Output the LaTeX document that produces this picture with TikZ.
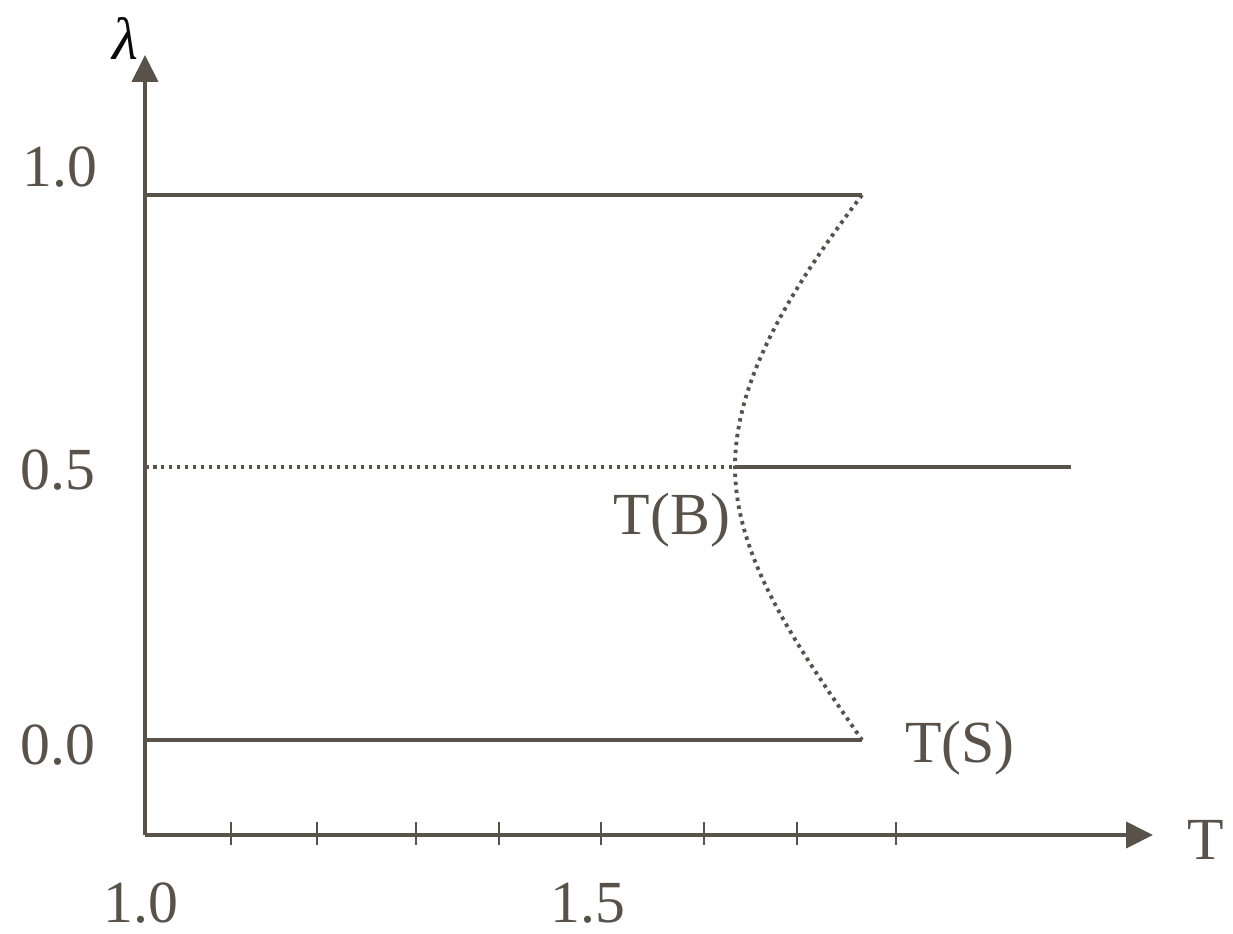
\documentclass[tikz,border=0pt]{standalone}
\usepackage{fontspec}
\setmainfont{Liberation Serif}
\usetikzlibrary{arrows.meta, positioning}
\definecolor{AxisBrown} {RGB}{ 89,  82,  74}
\definecolor{LabelBlack}{RGB}{ 10,  10,  10}
\tikzset{
  % Axes with filled triangle heads
  axis/.style={
    line width=2.3pt, color=AxisBrown,
    -{Triangle[length=0.54cm, width=0.52cm]}
  },
  % Tick marks on the T axis
  tick/.style={line width=1.1pt, color=AxisBrown},
  % Solid phase lines
  phase/.style={line width=2.1pt, color=AxisBrown},
  % Dotted boundaries
  boundary/.style={
    line width=2.2pt, color=AxisBrown,
    dash pattern=on 0.07cm off 0.09cm
  },
  % Text labels
  ticklabel/.style={
    font=\fontsize{34}{40}\selectfont, text=AxisBrown, inner sep=0pt
  },
  axislabel/.style={
    font=\fontsize{34}{40}\selectfont\itshape, text=LabelBlack, inner sep=0pt
  }
}

\begin{document}
\begin{tikzpicture}[x=0.02cm, y=-0.02cm]
  \useasboundingbox (0,0) rectangle (1233,933);

  % ── Axes ──────────────────────────────────────────────────────────────────
  \coordinate (origin) at (145,835);
  \coordinate (ytip)   at (145,55);
  \coordinate (xtip)   at (1153,835);
  \draw[axis] (origin) -- (ytip);
  \draw[axis] (origin) -- (xtip);

  \node[axislabel] (lam)  at (125,38)  {λ};
  \node[ticklabel] (tlab) at (1206,840) {T};

  % ── Ticks on T axis ───────────────────────────────────────────────────────
  \foreach \tx in {231, 317, 416, 499, 601, 704, 797, 896}
    \draw[tick] (\tx,822) -- (\tx,845);

  \node[ticklabel] (t10) at (141,903) {1.0};
  \node[ticklabel] (t15) at (588,903) {1.5};

  \node[ticklabel] (l10) at (60,167) {1.0};
  \node[ticklabel] (l05) at (58,470) {0.5};
  \node[ticklabel] (l00) at (58,745) {0.0};

  % ── Phase lines ───────────────────────────────────────────────────────────
  \coordinate (topstart) at (145,195);
  \coordinate (topend)   at (862,195);
  \coordinate (midstart) at (145,467);
  \coordinate (bend)     at (735,467);
  \coordinate (midend)   at (1071,467);
  \coordinate (botstart) at (145,740);
  \coordinate (botend)   at (862,740);

  \draw[phase] (topstart) -- (topend);
  \draw[phase] (botstart) -- (botend);
  \draw[phase] (bend) -- (midend);
  \draw[boundary] (midstart) -- (bend);

  % ── Dotted boundary curve ─────────────────────────────────────────────────
  \draw[boundary] (topend) .. controls (790,290) and (735,380) .. (bend)
                           .. controls (735,560) and (800,650) .. (botend);

  \node[ticklabel] (tb) at (672,520) {T(B)};
  \node[ticklabel] (ts) at (960,748) {T(S)};

\end{tikzpicture}
\end{document}
